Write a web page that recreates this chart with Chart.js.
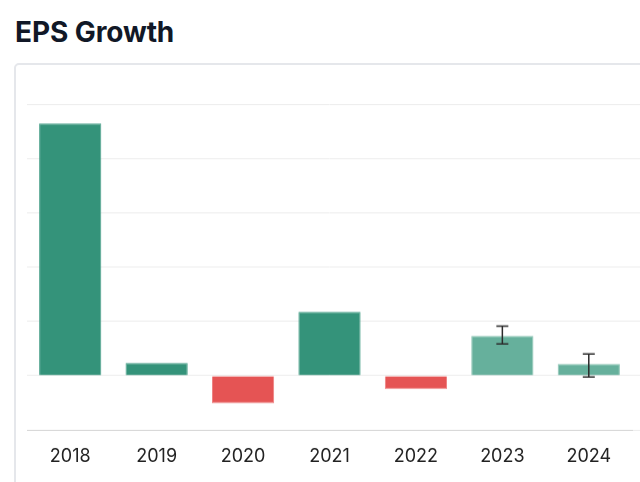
<!DOCTYPE html>
<html>
<head>
<meta charset="utf-8">
<script src="https://cdn.jsdelivr.net/npm/chart.js@4.4.1/dist/chart.umd.min.js"></script>
<style>
  html, body { margin: 0; padding: 0; background: #fff; overflow: hidden; width: 640px; height: 482px; }
  h1 {
    position: absolute; left: 15px; top: 15px; margin: 0;
    font: 700 28px Inter, "Noto Sans", sans-serif; color: #111827; letter-spacing: -0.1px;
  }
  .card {
    position: absolute; left: 14px; top: 63px; width: 720px; height: 460px;
    border: 2px solid #e5e7eb; border-radius: 5px; background: #fff;
  }
  .wrap { position: absolute; left: 1px; top: 1px; width: 700px; height: 416.6px; }
</style>
</head>
<body>
<h1>EPS Growth</h1>
<div class="card"><div class="wrap"><canvas id="epsChart"></canvas></div></div>
<script>
// EPS growth (%) per year; last two years are estimates with a range
const years = ["2018", "2019", "2020", "2021", "2022", "2023", "2024"];
const growth = [93.1, 4.7, -10.2, 23.6, -4.9, 14.7, 4.3];
const estLow = [null, null, null, null, null, 11.7, -0.5];
const estHigh = [null, null, null, null, null, 18.3, 8.0];
const yTicks = [-20, 0, 20, 40, 60, 80, 100];

const GREEN = "#34937a", GREEN_EDGE = "#4aa08a";
const RED = "#e55454", RED_EDGE = "#ee8080";
const LIGHT = "#66b09c", LIGHT_EDGE = "#8cc4b4";

function barColor(i, edge) {
    if (growth[i] < 0) return edge ? RED_EDGE : RED;
    if (estLow[i] !== null) return edge ? LIGHT_EDGE : LIGHT;
    return edge ? GREEN_EDGE : GREEN;
}

// draws the estimate range whiskers on top of the bars
const errorBars = {
    id: "errorBars",
    afterDatasetsDraw(chart) {
        const ctx = chart.ctx;
        const meta = chart.getDatasetMeta(0);
        const y = chart.scales.y;
        ctx.save();
        ctx.strokeStyle = "#2b2b2b";
        ctx.lineWidth = 1.5;
        meta.data.forEach((bar, i) => {
            if (estLow[i] === null) return;
            const top = y.getPixelForValue(estHigh[i]);
            const bot = y.getPixelForValue(estLow[i]);
            ctx.beginPath();
            ctx.moveTo(bar.x, top); ctx.lineTo(bar.x, bot);
            ctx.moveTo(bar.x - 6, top); ctx.lineTo(bar.x + 6, top);
            ctx.moveTo(bar.x - 6, bot); ctx.lineTo(bar.x + 6, bot);
            ctx.stroke();
        });
        ctx.restore();
    }
};

new Chart(document.getElementById("epsChart"), {
    type: "bar",
    data: {
        labels: years,
        datasets: [{
            data: growth,
            backgroundColor: c => barColor(c.dataIndex, false),
            borderColor: c => barColor(c.dataIndex, true),
            borderWidth: 1,
            borderSkipped: "start"
        }]
    },
    options: {
        responsive: true,
        maintainAspectRatio: false,
        animation: false,
        layout: { padding: { left: 10, top: 38.7, right: 0, bottom: 0 } },
        plugins: { legend: { display: false }, tooltip: { enabled: false } },
        scales: {
            x: {
                grid: { display: false, drawTicks: false },
                border: { display: true, color: "#d4d4d4", width: 1 },
                ticks: { color: "#222", padding: 16, font: { family: "Inter", size: 18 } }
            },
            y: {
                position: "right",
                min: -20, max: 100,
                afterBuildTicks: s => { s.ticks = yTicks.map(v => ({ value: v })); },
                afterFit: s => { s.width = 85; },
                grid: { color: "#ececec", lineWidth: 1, tickLength: 85 },
                border: { display: false },
                ticks: { display: false }
            }
        }
    },
    plugins: [errorBars]
});
</script>
</body>
</html>
